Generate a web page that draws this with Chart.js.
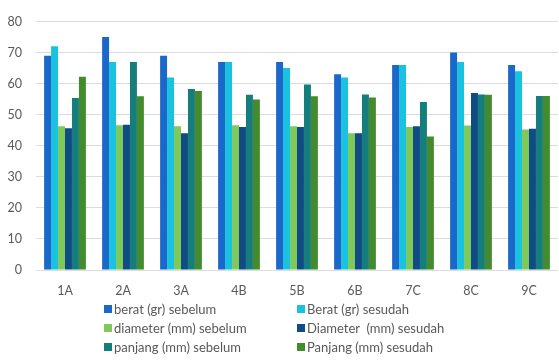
<!DOCTYPE html>
<html>
<head>
<meta charset="utf-8">
<script src="https://cdn.jsdelivr.net/npm/chart.js@4/dist/chart.umd.min.js"></script>
<style>
  html, body { margin: 0; padding: 0; background: #fff; }
  #wrap { position: relative; width: 559px; height: 360px; overflow: hidden; }
  #chart { position: absolute; left: 0; top: 0; }
  #legend {
    position: absolute; left: 104px; top: 301px;
    display: grid; grid-template-columns: 193px 200px; row-gap: 3px;
    font-family: Lato, "Open Sans", sans-serif; font-size: 13px; color: #595959;
  }
  #legend .item { display: flex; align-items: center; height: 16px; white-space: pre; }
  #legend .box { width: 8px; height: 8px; margin-right: 2px; }
</style>
</head>
<body>
<div id="wrap">
  <canvas id="chart" width="559" height="303"></canvas>
  <div id="legend"></div>
</div>
<script>
// Samples per class
const categories = ['1A', '2A', '3A', '4B', '5B', '6B', '7C', '8C', '9C'];

// Measurements before / after
const beratSebelum    = [69, 75, 69, 67, 67, 63, 66, 70, 66];
const beratSesudah    = [72, 67, 62, 67, 65, 62, 66, 67, 64];
const diameterSebelum = [46.3, 46.6, 46.3, 46.6, 46.3, 44, 46, 46.5, 45.2];
const diameterSesudah = [45.6, 46.8, 44, 46, 46, 44, 46.3, 57, 45.5];
const panjangSebelum  = [55.4, 67, 58.3, 56.4, 59.7, 56.5, 54.1, 56.5, 56];
const panjangSesudah  = [62.2, 55.9, 57.6, 54.9, 55.9, 55.5, 43, 56.4, 56];

const seriesNames = [
  'berat (gr) sebelum', 'Berat (gr) sesudah',
  'diameter (mm) sebelum', 'Diameter  (mm) sesudah',
  'panjang (mm) sebelum', 'Panjang (mm) sesudah'
];
const yTicks = [0, 10, 20, 30, 40, 50, 60, 70, 80];

const colors = ['#1a68c9', '#19c2df', '#7fc95b', '#0f4b84', '#157d7b', '#448b2d'];
const seriesData = [beratSebelum, beratSesudah, diameterSebelum, diameterSesudah, panjangSebelum, panjangSesudah];

const font = { family: 'Lato, "Open Sans", sans-serif', size: 12.5 };

const chart = new Chart(document.getElementById('chart'), {
  type: 'bar',
  data: {
    labels: categories,
    datasets: seriesData.map((d, i) => ({
      label: seriesNames[i],
      data: d,
      backgroundColor: colors[i],
      borderWidth: 0,
      categoryPercentage: 0.72,
      barPercentage: 1.0
    }))
  },
  options: {
    responsive: false,
    animation: false,
    layout: { padding: { left: 0, right: 1, top: 8, bottom: 0 } },
    plugins: { legend: { display: false }, tooltip: { enabled: false } },
    scales: {
      x: {
        grid: { display: false },
        border: { display: false },
        ticks: { color: '#595959', font, padding: 5, maxRotation: 0 }
      },
      y: {
        min: 0, max: 80,
        afterBuildTicks: (s) => { s.ticks = yTicks.map(v => ({ value: v })); },
        afterFit: (s) => { s.width = 36; },
        grid: { color: '#dcdcdc', lineWidth: 1, drawTicks: false },
        border: { display: false },
        ticks: { color: '#595959', font, padding: 14 }
      }
    }
  }
});

// Legend in two columns, built from the datasets
const legend = document.getElementById('legend');
chart.data.datasets.forEach(ds => {
  const item = document.createElement('div');
  item.className = 'item';
  const box = document.createElement('span');
  box.className = 'box';
  box.style.background = ds.backgroundColor;
  const txt = document.createElement('span');
  txt.textContent = ds.label;
  item.appendChild(box);
  item.appendChild(txt);
  legend.appendChild(item);
});
</script>
</body>
</html>
